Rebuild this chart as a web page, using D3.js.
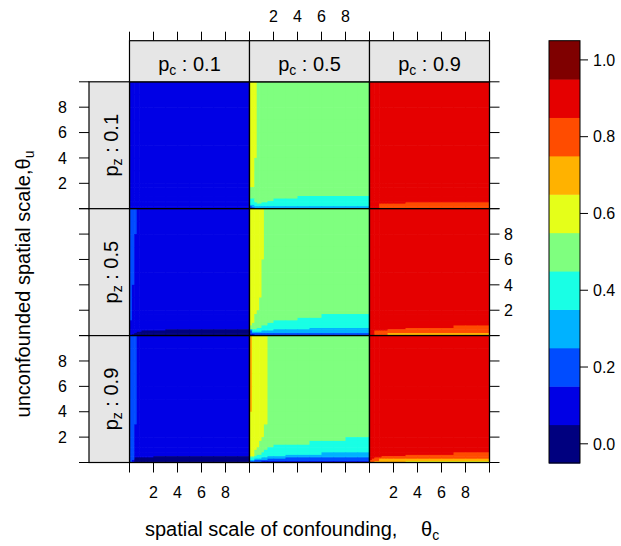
<!DOCTYPE html>
<html><head><meta charset="utf-8">
<script src="https://cdn.jsdelivr.net/npm/d3@7/dist/d3.min.js"></script>
<style>
body{margin:0;background:#fff}
text{font-family:"Liberation Sans",Arial,sans-serif;fill:#000}
</style>
</head><body>
<svg id="chart" width="621" height="546"></svg>
<script>
// ---------------- data ----------------
const pcLevels = ["0.1", "0.5", "0.9"];           // columns (p_c)
const pzLevels = ["0.1", "0.5", "0.9"];           // rows (p_z), top to bottom
const thetaCEdges = [0, 0.2, 0.4, 0.6, 0.8, 1, 1.2, 1.5, 2, 3, 4, 5, 6, 7, 8, 9, 10];
const thetaUEdges = [0, 0.1, 0.2, 0.3, 0.4, 0.5, 0.6, 0.8, 1.0, 1.2, 1.4, 1.7, 2, 3, 4, 5, 6, 7, 8, 9, 10];
const axisTicks = [0, 2, 4, 6, 8, 10];
const axisTickLabels = ["", "2", "4", "6", "8", ""];
const keyTicks = [0, 0.2, 0.4, 0.6, 0.8, 1.0];
const keyTickLabels = ["0.0", "0.2", "0.4", "0.6", "0.8", "1.0"];
const levelBreaks = [-0.05, 0.05, 0.15, 0.25, 0.35, 0.45, 0.55, 0.65, 0.75, 0.85, 0.95, 1.05];
const levelColors = ["#00007F", "#0000E5", "#004CFF", "#00B2FF", "#19FFE5", "#7FFF7F",
                     "#E5FF19", "#FFB200", "#FF4C00", "#E50000", "#7F0000"];

// z values (tenths, one char per cell) ; rows from theta_u = 10 (top) down to 0, columns theta_c 0 -> 10
const z_pz01_pc01 = Array(20).fill("1111111111111111");
const z_pz01_pc05 = [
  "6665555555555555","6665555555555555","6665555555555555","6665555555555555","6665555555555555",
  "6665555555555555","6655555555555555","6655555555555555","6655555555555555","5555555555555555",
  "5555555555555555","5555555555555555","5555555555444444","4455555544444444","4455555444444444",
  "4445544444444444","4444444444444444","3344444444444444","2333333333333333","2233333333333333"];
const z_pz01_pc09 = [
  "9999999999999999","9999999999999999","9999999999999999","9999999999999999","9999999999999999",
  "9999999999999999","9999999999999999","9999999999999999","9999999999999999","9999999999999999",
  "9999999999999999","9999999999999999","9999999999999999","9999999999999999","9999999999999999",
  "9999999998888888","9999888888888888","9999888888888888","9999888888888888","9999888888888888"];
const z_pz05_pc01 = [
  "2221111111111111","2221111111111111","2211111111111111","2211111111111111","2211111111111111",
  "2211111111111111","2111111111111111","2111111111111111","2111111111111111","2111111111111111",
  "2111111111111111","1111111111111111","1111111111111111","1111111111111111","1111111111111111",
  "1111111110000000","1111100000000000","1110000000000000","1100000000000000","1000000000000000"];
const z_pz05_pc05 = [
  "6666665555555555","6666665555555555","6666665555555555","6666665555555555","6666655555555555",
  "6666655555555555","6666655555555555","6666555555555555","6665555555555555","6655555555554444",
  "6655555555444444","6655555544444444","6555555444444444","5555544444444444","5554444444433333",
  "3444444433333333","2444433333333333","2333333333333333","2222222222222222","1122222222222222"];
const z_pz05_pc09 = [
  "9999999999999999","9999999999999999","9999999999999999","9999999999999999","9999999999999999",
  "9999999999999999","9999999999999999","9999999999999999","9999999999999999","9999999999999999",
  "9999999999999999","9999999999999999","9999999999999999","9999999999999888","9999999998888888",
  "9999999888888888","9988888888888888","9988888888888888","9988888777777777","9988888777777777"];
const z_pz09_pc01 = [
  "2221111111111111","2221111111111111","2221111111111111","2221111111111111","2221111111111111",
  "2221111111111111","2221111111111111","2211111111111111","2211111111111111","2211111111111111",
  "2211111111111111","2211111111111111","2211111111111111","2211111111111111","2211111111111111",
  "2211111100000000","2200000000000000","2200000000000000","2100000000000000","2100000000000000"];
const z_pz09_pc05 = [
  "7666666555555555","7666666555555555","7666666555555555","7666666555555555","7666666555555555",
  "7666666555555555","6666666555555555","6666665555555555","6666655555555544","6666555555544444",
  "6666555544444444","6665555444444444","6655554444444444","6655544444443333","6654444443333333",
  "5544444333333333","4444433332222222","4433333222222222","3322222222222222","2222211111111111"];
const z_pz09_pc09 = [
  "9999999999999999","9999999999999999","9999999999999999","9999999999999999","9999999999999999",
  "9999999999999999","9999999999999999","9999999999999999","9999999999999999","9999999999999999",
  "9999999999999999","9999999999999999","9999999999999999","9999999999999888","9999999998888888",
  "9999988888888888","9988888888888888","9888777777777777","8888777777777777","8877777776666666"];

const panelData = [
  [z_pz01_pc01, z_pz01_pc05, z_pz01_pc09],
  [z_pz05_pc01, z_pz05_pc05, z_pz05_pc09],
  [z_pz09_pc01, z_pz09_pc05, z_pz09_pc09]
];

// ---------------- layout ----------------
const X0 = 129.5, PW = 120, Y0 = 81.8, PH = 126.9;
const STRIP_TOP = 40.7, LSTRIP_LEFT = 89;
const TICK = 10;

const svg = d3.select("#chart");
const color = d3.scaleThreshold().domain(levelBreaks.slice(1, -1)).range(levelColors);
const defs = svg.append("defs");

pzLevels.forEach((pz, i) => {
  pcLevels.forEach((pc, j) => {
    const xs = d3.scaleLinear().domain([0, 10]).range([X0 + j * PW, X0 + (j + 1) * PW]);
    const ys = d3.scaleLinear().domain([0, 10]).range([Y0 + (i + 1) * PH, Y0 + i * PH]);
    const id = `clip${i}${j}`;
    defs.append("clipPath").attr("id", id).append("rect")
      .attr("x", xs(0)).attr("y", ys(10)).attr("width", xs(10) - xs(0)).attr("height", ys(0) - ys(10));
    const cells = [];
    const nr = thetaUEdges.length - 1;
    panelData[i][j].forEach((row, r) => {
      for (let c = 0; c < row.length; c++) {
        cells.push({
          x0: thetaCEdges[c], x1: thetaCEdges[c + 1],
          y1: thetaUEdges[nr - r], y0: thetaUEdges[nr - r - 1],
          z: parseInt(row[c], 11) / 10
        });
      }
    });
    const g = svg.append("g").attr("clip-path", `url(#${id})`);
    g.selectAll("rect").data(cells).join("rect")
      .attr("x", d => xs(d.x0)).attr("y", d => ys(d.y1))
      .attr("width", d => xs(d.x1) - xs(d.x0) + 0.6)
      .attr("height", d => ys(d.y0) - ys(d.y1) + 0.6)
      .attr("fill", d => color(d.z));
    svg.append("rect").attr("x", xs(0)).attr("y", ys(10))
      .attr("width", xs(10) - xs(0)).attr("height", ys(0) - ys(10))
      .attr("fill", "none").attr("stroke", "#000").attr("stroke-width", 1.3);

    // bottom axis
    if (i === pzLevels.length - 1) {
      const ax = svg.append("g");
      axisTicks.forEach((t, k) => {
        ax.append("line").attr("x1", xs(t)).attr("x2", xs(t))
          .attr("y1", ys(0)).attr("y2", ys(0) + TICK).attr("stroke", "#000");
        if (j !== 1 && axisTickLabels[k])
          ax.append("text").attr("x", xs(t)).attr("y", 497.7).attr("text-anchor", "middle")
            .attr("font-size", 16).text(axisTickLabels[k]);
      });
    }
    // top axis (above strips)
    if (i === 0) {
      const ax = svg.append("g");
      axisTicks.forEach((t, k) => {
        ax.append("line").attr("x1", xs(t)).attr("x2", xs(t))
          .attr("y1", STRIP_TOP - 9).attr("y2", STRIP_TOP).attr("stroke", "#000");
        if (j === 1 && axisTickLabels[k])
          ax.append("text").attr("x", xs(t)).attr("y", 21.5).attr("text-anchor", "middle")
            .attr("font-size", 16).text(axisTickLabels[k]);
      });
      // strip
      svg.append("rect").attr("x", xs(0)).attr("y", STRIP_TOP)
        .attr("width", xs(10) - xs(0)).attr("height", Y0 - STRIP_TOP)
        .attr("fill", "#E6E6E6").attr("stroke", "#000").attr("stroke-width", 1.2);
      const t = svg.append("text").attr("x", (xs(0) + xs(10)) / 2).attr("y", 70.5)
        .attr("text-anchor", "middle").attr("font-size", 20);
      t.append("tspan").text("p");
      t.append("tspan").attr("font-size", 14).attr("dy", 4).text("c");
      t.append("tspan").attr("dy", -4).text(" : " + pc);
    }
    // left axis + strip
    if (j === 0) {
      const ax = svg.append("g");
      axisTicks.forEach((t, k) => {
        ax.append("line").attr("x1", LSTRIP_LEFT - TICK).attr("x2", LSTRIP_LEFT)
          .attr("y1", ys(t)).attr("y2", ys(t)).attr("stroke", "#000");
        if (i !== 1 && axisTickLabels[k])
          ax.append("text").attr("x", 67).attr("y", ys(t) + 5.7).attr("text-anchor", "end")
            .attr("font-size", 16).text(axisTickLabels[k]);
      });
      svg.append("rect").attr("x", LSTRIP_LEFT).attr("y", ys(10))
        .attr("width", xs(0) - LSTRIP_LEFT).attr("height", ys(0) - ys(10))
        .attr("fill", "#E6E6E6").attr("stroke", "#000").attr("stroke-width", 1.2);
      const t = svg.append("text")
        .attr("transform", `translate(118,${(ys(0) + ys(10)) / 2}) rotate(-90)`)
        .attr("text-anchor", "middle").attr("font-size", 20);
      t.append("tspan").text("p");
      t.append("tspan").attr("font-size", 14).attr("dy", 4).text("z");
      t.append("tspan").attr("dy", -4).text(" : " + pz);
    }
    // right axis
    if (j === pcLevels.length - 1) {
      const ax = svg.append("g");
      axisTicks.forEach((t, k) => {
        ax.append("line").attr("x1", xs(10)).attr("x2", xs(10) + TICK)
          .attr("y1", ys(t)).attr("y2", ys(t)).attr("stroke", "#000");
        if (i === 1 && axisTickLabels[k])
          ax.append("text").attr("x", 504).attr("y", ys(t) + 5.7).attr("text-anchor", "start")
            .attr("font-size", 16).text(axisTickLabels[k]);
      });
    }
  });
});

// axis titles
const xt = svg.append("text").attr("x", 145).attr("y", 535.5).attr("font-size", 20);
xt.append("tspan").text("spatial scale of confounding,");
xt.append("tspan").attr("x", 421).text("θ");
xt.append("tspan").attr("font-size", 14).attr("dy", 4).text("c");

const yt = svg.append("text").attr("transform", "translate(29.5,284) rotate(-90)")
  .attr("text-anchor", "middle").attr("font-size", 20);
yt.append("tspan").text("unconfounded spatial scale,θ");
yt.append("tspan").attr("font-size", 14).attr("dy", 4).text("u");

// colour key
const ky = d3.scaleLinear().domain([-0.05, 1.05]).range([463, 40.7]);
const KX = 549, KW = 31;
const keyBins = levelColors.map((c, k) => ({lo: levelBreaks[k], hi: levelBreaks[k + 1], c}));
svg.append("g").selectAll("rect").data(keyBins).join("rect")
  .attr("x", KX).attr("width", KW)
  .attr("y", d => ky(d.hi)).attr("height", d => ky(d.lo) - ky(d.hi) + 0.5)
  .attr("fill", d => d.c);
svg.append("rect").attr("x", KX).attr("y", ky(1.05)).attr("width", KW)
  .attr("height", ky(-0.05) - ky(1.05)).attr("fill", "none").attr("stroke", "#000");
keyTicks.forEach((t, k) => {
  svg.append("line").attr("x1", KX + KW).attr("x2", KX + KW + 8)
    .attr("y1", ky(t)).attr("y2", ky(t)).attr("stroke", "#000");
  svg.append("text").attr("x", 593).attr("y", ky(t) + 5.7).attr("font-size", 16).text(keyTickLabels[k]);
});
</script>
</body></html>
